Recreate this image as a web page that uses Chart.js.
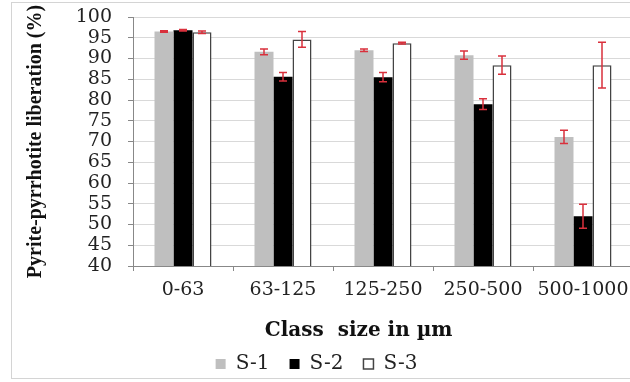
<!DOCTYPE html>
<html><head><meta charset="utf-8">
<script src="https://cdn.jsdelivr.net/npm/chart.js@4.4.1/dist/chart.umd.min.js"></script>
<style>
html,body{margin:0;padding:0;background:#fff;overflow:hidden;width:630px;height:382px;position:relative;}
#frame{position:absolute;left:11px;top:2px;width:660px;height:377px;border:1px solid #d4d4d4;box-sizing:border-box;}
#wrap{position:absolute;left:0;top:0;width:650px;height:382px;}
</style></head><body>
<div id="frame"></div>
<div id="wrap"><canvas id="c" width="650" height="382"></canvas></div>
<script>
const categories = ['0-63', '63-125', '125-250', '250-500', '500-1000'];
const s1 = [96.5, 91.6, 92.0, 90.8, 71.1];
const s2 = [96.8, 85.6, 85.5, 79.0, 52.0];
const s3 = [96.3, 94.6, 93.7, 88.4, 88.4];
const e1 = [0.2, 0.7, 0.3, 1.0, 1.6];
const e2 = [0.2, 1.0, 1.1, 1.3, 2.9];
const e3 = [0.3, 1.9, 0.2, 2.2, 5.5];
const seriesNames = ['S-1', 'S-2', 'S-3'];
const yTicks = [40, 45, 50, 55, 60, 65, 70, 75, 80, 85, 90, 95, 100];
const errors = [e1, e2, e3];

const errPlugin = {
  id: 'errbars',
  afterDatasetsDraw(chart) {
    const ctx = chart.ctx, y = chart.scales.y;
    chart.data.datasets.forEach((ds, i) => {
      const meta = chart.getDatasetMeta(i);
      meta.data.forEach((bar, j) => {
        const v = ds.data[j], e = errors[i][j];
        const x = bar.x;
        const yt = y.getPixelForValue(v + e), yb = y.getPixelForValue(v - e);
        ctx.save();
        ctx.strokeStyle = '#d9303c';
        ctx.lineWidth = 1.5;
        ctx.beginPath();
        ctx.moveTo(x, yt); ctx.lineTo(x, yb);
        ctx.moveTo(x - 4, yt); ctx.lineTo(x + 4, yt);
        ctx.moveTo(x - 4, yb); ctx.lineTo(x + 4, yb);
        ctx.stroke();
        ctx.restore();
      });
    });
  }
};

const tickFont = {family: 'DejaVu Serif', size: 19};
new Chart(document.getElementById('c'), {
  type: 'bar',
  data: {
    labels: categories,
    datasets: [
      {label: seriesNames[0], data: s1, backgroundColor: '#bfbfbf', borderWidth: 0},
      {label: seriesNames[1], data: s2, backgroundColor: '#000000', borderWidth: 0},
      {label: seriesNames[2], data: s3, backgroundColor: '#ffffff', borderColor: '#444444', borderWidth: 1.5}
    ]
  },
  options: {
    responsive: false,
    animation: false,
    devicePixelRatio: 1,
    categoryPercentage: 0.57,
    barPercentage: 1,
    layout: {padding: {left: 0, right: 17, top: 17, bottom: -2}},
    plugins: {
      tooltip: {enabled: false},
      legend: {
        position: 'bottom',
        labels: {
          boxWidth: 10, boxHeight: 10, padding: 20, color: '#222',
          font: {family: 'DejaVu Serif', size: 20}
        }
      }
    },
    scales: {
      x: {
        afterFit(s) { s.height = 68; },
        grid: {display: true, drawOnChartArea: false, offset: true, color: '#888', tickColor: '#888', tickLength: 5},
        border: {display: true, color: '#888', width: 1},
        ticks: {font: tickFont, color: '#222', padding: 8, maxRotation: 0, autoSkip: false},
        title: {display: true, text: 'Class  size in µm       ', color: '#111',
          font: {family: 'DejaVu Serif', size: 20, weight: 'bold'}, padding: {top: 0, bottom: -9}}
      },
      y: {
        min: 40, max: 100,
        afterFit(s) { s.width = 133; s.paddingTop = 0; s.paddingBottom = 0; },
        afterBuildTicks(s) { s.ticks = yTicks.map(v => ({value: v})); },
        grid: {color: '#d9d9d9', tickColor: '#888', tickLength: 5},
        border: {display: true, color: '#888', width: 1},
        ticks: {font: tickFont, color: '#222', padding: 16, autoSkip: false},
        title: {display: true, text: 'Pyrite-pyrrhotite liberation (%)', color: '#111',
          font: {family: 'Liberation Serif', size: 20, weight: 'bold'}, padding: {top: 24, bottom: 0}}
      }
    }
  },
  plugins: [errPlugin]
});
</script>
</body></html>
